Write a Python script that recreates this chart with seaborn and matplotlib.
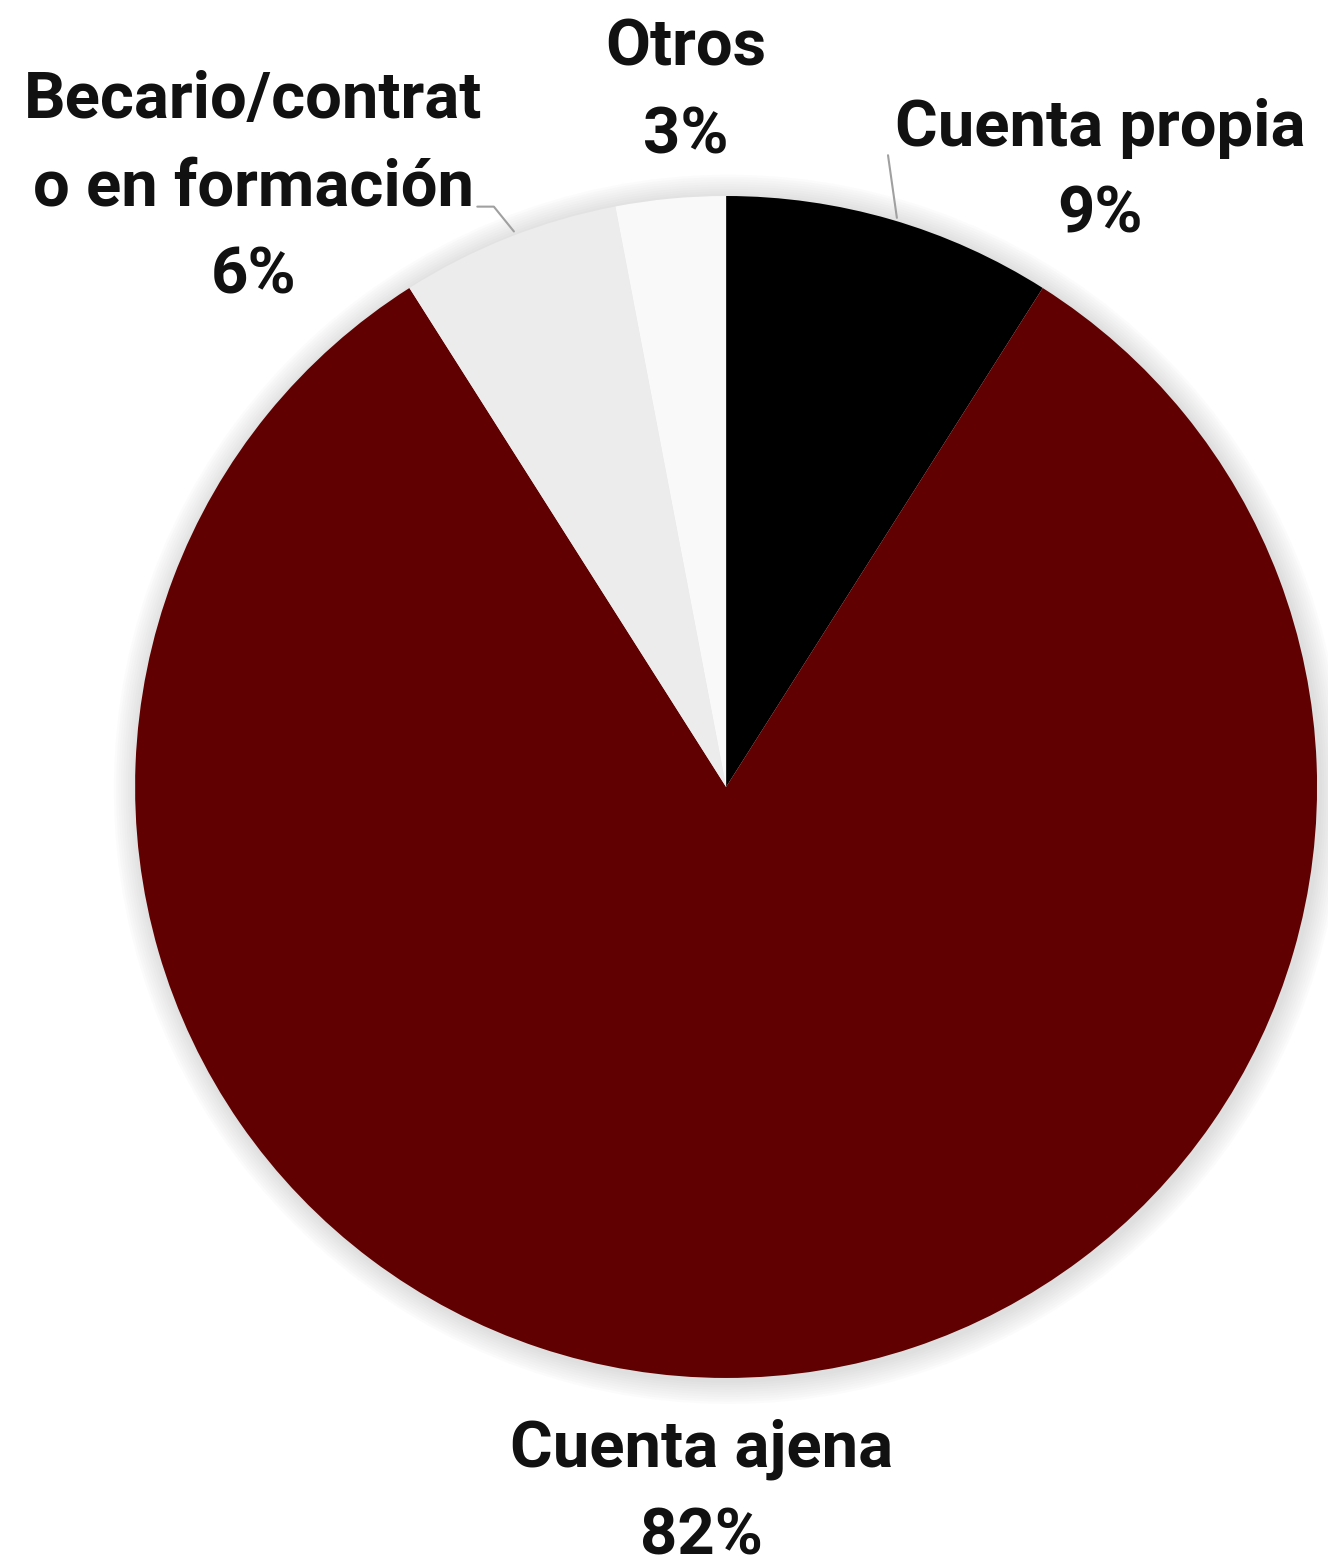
import numpy as np
import seaborn as sns
import matplotlib.pyplot as plt
from matplotlib.patches import Circle

# data
categories = ["Cuenta propia", "Cuenta ajena", "Becario/contrat\no en formación", "Otros"]
shares = [9, 82, 6, 3]
slice_colors = ["#000000", "#600000", "#ececec", "#f9f9f9"]

sns.set_theme(style="white")
plt.rcParams['font.family'] = ['Roboto', 'DejaVu Sans']

fig = plt.figure(figsize=(13.28, 15.68), dpi=100)
# pie centre (726, 787) px, radius 591 px
ax = fig.add_axes([0.1017, 0.1212, 0.8901, 0.7538])

# soft shadow round the pie
for k in range(10):
    ax.add_patch(Circle((0.004, -0.004), 1.0 + 0.004 * (10 - k), color="#7a7a7a",
                        alpha=0.025, lw=0, zorder=0, clip_on=False))

wedges, _ = ax.pie(shares, colors=slice_colors, startangle=90, counterclock=False,
                   radius=1.0, wedgeprops=dict(linewidth=0))
for w in wedges:
    w.set_zorder(2)
    w.set_clip_on(False)

ax.set_xlim(-1, 1)
ax.set_ylim(-1, 1)
ax.set_aspect('equal')
ax.axis('off')

# labels: text, centre position (data units)
label_pos = [(0.633, 1.041), (-0.042, -1.195), (-0.800, 1.013), (-0.068, 1.176)]
for name, val, (lx, ly) in zip(categories, shares, label_pos):
    ax.text(lx, ly, f"{name}\n{val}%", ha='center', va='center', fontsize=47,
            fontweight='bold', color='#111111', linespacing=1.55, clip_on=False)

# leader lines
ax.plot([0.274, 0.289], [1.069, 0.963], color='#a0a0a0', lw=1.5, clip_on=False, zorder=3)
ax.plot([-0.421, -0.393, -0.359], [0.982, 0.982, 0.940], color='#a0a0a0', lw=1.5,
        clip_on=False, zorder=3)

fig.savefig("out.png", dpi=100, facecolor='white')
